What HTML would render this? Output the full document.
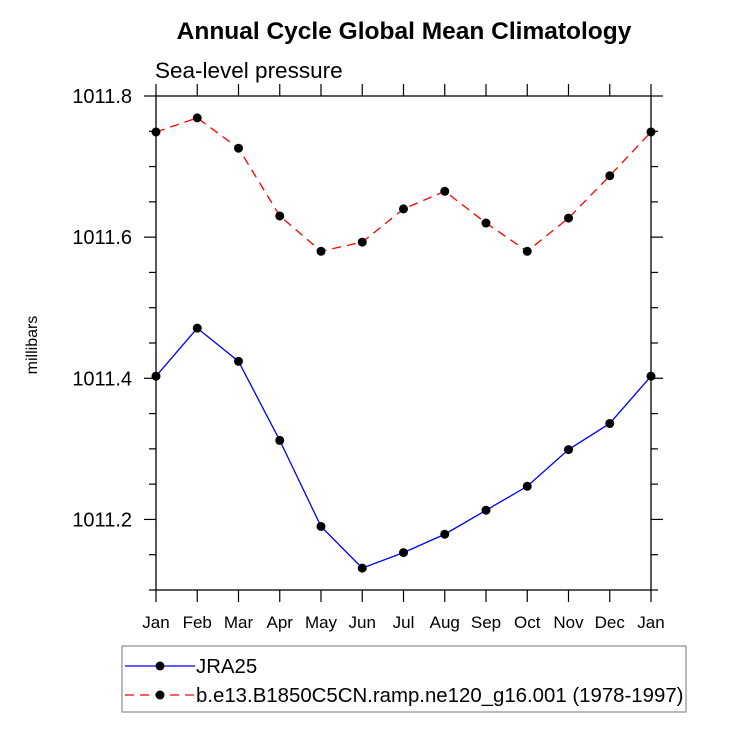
<!DOCTYPE html>
<html><head><meta charset="utf-8"><style>body{margin:0;background:#fff}svg text{font-family:"Liberation Sans",Arial,sans-serif}</style></head>
<body>
<svg id="chart" width="732" height="732" xmlns="http://www.w3.org/2000/svg">
<text x="404" y="39" text-anchor="middle" font-size="24.5" font-weight="bold">Annual Cycle Global Mean Climatology</text>
<text x="155" y="78" font-size="22.5">Sea-level pressure</text>
<text transform="translate(37,345) rotate(-90)" text-anchor="middle" font-size="16">millibars</text>
<g id="axes"></g><g id="series"></g>
<rect x="122" y="646" width="564" height="66" fill="none" stroke="#777" stroke-width="1"/>
<line x1="125" y1="666" x2="195" y2="666" stroke="blue" stroke-width="1.3"/>
<circle cx="160" cy="666" r="4.5"/>
<text x="196" y="673" font-size="20.4">JRA25</text>
<line x1="125" y1="695" x2="195" y2="695" stroke="red" stroke-width="1.3" stroke-dasharray="9,6"/>
<circle cx="160" cy="695" r="4.5"/>
<text x="196" y="702" font-size="20.4">b.e13.B1850C5CN.ramp.ne120_g16.001 (1978-1997)</text>
</svg>
<script>
const months=["Jan","Feb","Mar","Apr","May","Jun","Jul","Aug","Sep","Oct","Nov","Dec","Jan"];
const jra25=[1011.403,1011.471,1011.424,1011.312,1011.190,1011.131,1011.153,1011.179,1011.213,1011.247,1011.299,1011.336,1011.403];
const model=[1011.749,1011.769,1011.726,1011.630,1011.580,1011.593,1011.640,1011.665,1011.620,1011.580,1011.627,1011.687,1011.749];
const yTickLabels=["1011.2","1011.4","1011.6","1011.8"];
const L=156,R=651,T=96,B=590,ymin=1011.1,ymax=1011.8;
const X=i=>L+(R-L)*i/(months.length-1);
const Y=v=>B-(B-T)*(v-ymin)/(ymax-ymin);
const NS="http://www.w3.org/2000/svg";
function mk(tag,at,parent){const e=document.createElementNS(NS,tag);for(const k in at)e.setAttribute(k,at[k]);parent.appendChild(e);return e;}
const ax=document.getElementById('axes'),sr=document.getElementById('series');
let f=mk('rect',{x:L,y:T,width:R-L,height:B-T,fill:'none',stroke:'#000','stroke-width':1.3},ax);


months.forEach((m,i)=>{
 let t=mk('line',{x1:X(i),x2:X(i),y1:B,y2:B+12,stroke:'#000','stroke-width':1.2},ax);
 
 
 let t2=mk('line',{x1:X(i),x2:X(i),y1:T,y2:T-12,stroke:'#000','stroke-width':1.2},ax);
 
 
 let l=mk('text',{x:X(i),y:628,'text-anchor':'middle','font-size':17},ax);l.textContent=m;
 
 
});
for(let k=0;k<=14;k++){
 const v=ymin+k*0.05,major=(k%4===2);
 const len=major?12:7;
 [[L,-1],[R,1]].forEach(([x0,s])=>{
  let t=mk('line',{x1:x0,x2:x0+s*len,y1:Y(v),y2:Y(v),stroke:'#000','stroke-width':1.2},ax);
  
  
 });
}
yTickLabels.forEach(s=>{
 let l=mk('text',{x:132,y:Y(parseFloat(s))+7,'text-anchor':'end','font-size':20},ax);l.textContent=s;
 
 
});
function draw(vals,color,dash,name){
 let p=mk('polyline',{points:vals.map((v,i)=>X(i)+','+Y(v)).join(' '),fill:'none',stroke:color,'stroke-width':1.3,'stroke-dasharray':dash},sr);
 
 
 vals.forEach((v,i)=>{let c=mk('circle',{cx:X(i),cy:Y(v),r:4.5},sr);
  
  });
}
draw(jra25,'blue','none','jra25');
draw(model,'red','9,6','model');
</script>
</body></html>
